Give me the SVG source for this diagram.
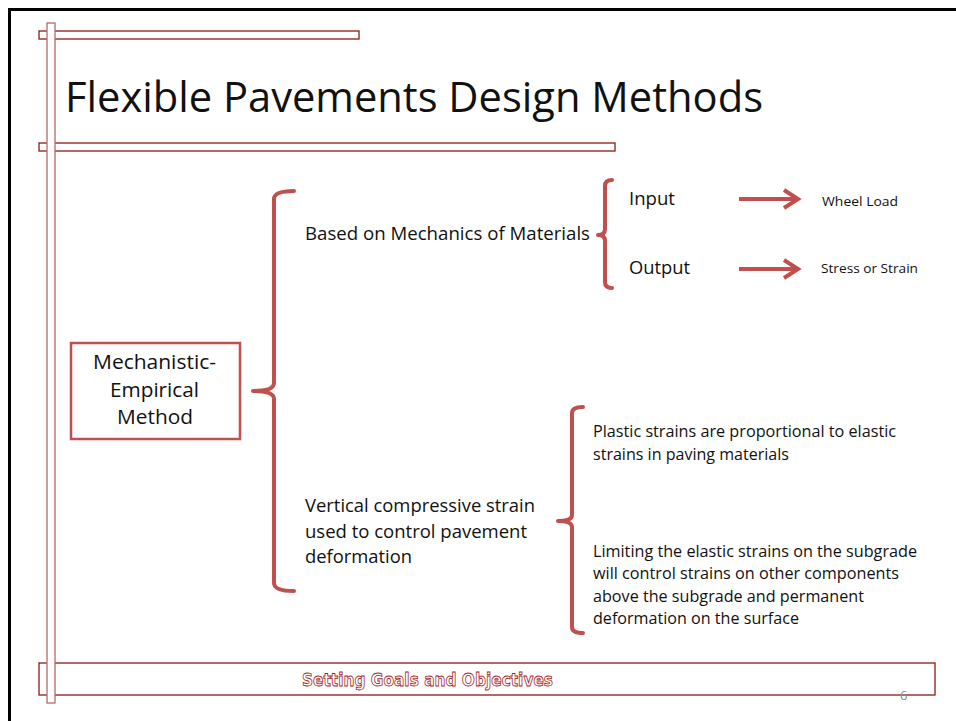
<svg xmlns="http://www.w3.org/2000/svg" width="956" height="721" viewBox="0 0 956 721">
  <style>
    .frame { fill: none; stroke: #000; stroke-width: 3; }
    .rail { fill: #fff; stroke: #8b1a1a; stroke-width: 1.3; }
    .post { fill: #fff; stroke: #b36a6a; stroke-width: 1.3; }
    .brace { fill: none; stroke: #c0504d; stroke-width: 4; stroke-linecap: round; stroke-linejoin: round; }
    .arrow { fill: none; stroke: #c0504d; stroke-width: 4; stroke-linejoin: miter; }
    .t { font-family: "Open Sans", "Liberation Sans", sans-serif; fill: #111; }
    .title { font-size: 42px; }
    .m { font-size: 18px; }
    .s { font-size: 13.5px; }
    .p { font-size: 15.5px; }
    .box { fill: #fff; stroke: #c0504d; stroke-width: 2.5; }
    .foot { font-family: Tahoma, "DejaVu Sans", sans-serif; font-size: 17px; font-weight: bold; fill: #fff; stroke: #a01c1c; stroke-width: 0.8; }
    .num { font-family: "Open Sans", "Liberation Sans", sans-serif; font-size: 13px; fill: #8c8c8c; }
  </style>

  <!-- slide frame -->
  <path class="frame" d="M9.5 721 V9.5 H956"/>

  <!-- decorative rails -->
  <rect class="rail" x="39" y="31" width="320" height="8"/>
  <rect class="rail" x="39" y="143" width="576" height="8"/>
  <rect class="rail" x="39" y="663" width="896" height="32"/>
  <rect class="post" x="47" y="23" width="8" height="680"/>

  <!-- title -->
  <text class="t title" x="65" y="112" textLength="698" lengthAdjust="spacingAndGlyphs">Flexible Pavements Design Methods</text>

  <!-- connectors: braces and arrows -->
  <g id="connectors">
    <path class="brace" d="M294 191 Q274 191 274 199 V383 Q274 391 253 391 Q274 391 274 399 V583 Q274 591 294 591"/>
    <path class="brace" d="M612 180 Q605 180 605 186 V229 Q605 235 598 235 Q605 235 605 241 V282 Q605 288 612 288"/>
    <path class="brace" d="M583 407 Q572 407 572 413 V515 Q572 521 558 521 Q572 521 572 527 V627 Q572 633 583 633"/>
    <path class="arrow" d="M739 199 H798 M784 190 L798 199 L784 208"/>
    <path class="arrow" d="M739 269 H798 M784 260 L798 269 L784 278"/>
  </g>

  <g id="method">
    <rect class="box" x="71" y="343" width="169" height="96"/>
    <text class="t" font-size="20" x="93" y="369" textLength="123" lengthAdjust="spacingAndGlyphs">Mechanistic-</text>
    <text class="t" font-size="20" x="110" y="397" textLength="89" lengthAdjust="spacingAndGlyphs">Empirical</text>
    <text class="t" font-size="20" x="117" y="424" textLength="76" lengthAdjust="spacingAndGlyphs">Method</text>
  </g>

  <g id="mechanics">
    <text class="t m" x="305" y="240" textLength="285" lengthAdjust="spacingAndGlyphs">Based on Mechanics of Materials</text>
  </g>

  <g id="input">
    <text class="t m" x="629" y="205" textLength="46" lengthAdjust="spacingAndGlyphs">Input</text>
  </g>
  <g id="output">
    <text class="t m" x="629" y="274" textLength="61" lengthAdjust="spacingAndGlyphs">Output</text>
  </g>
  <g id="wheel-load">
    <text class="t s" x="822" y="206" textLength="76" lengthAdjust="spacingAndGlyphs">Wheel Load</text>
  </g>
  <g id="stress-strain">
    <text class="t s" x="821" y="273" textLength="97" lengthAdjust="spacingAndGlyphs">Stress or Strain</text>
  </g>

  <g id="vertical-strain">
    <text class="t m" x="305" y="512" textLength="230" lengthAdjust="spacingAndGlyphs">Vertical compressive strain</text>
    <text class="t m" x="305" y="538" textLength="222" lengthAdjust="spacingAndGlyphs">used to control pavement</text>
    <text class="t m" x="305" y="563" textLength="107" lengthAdjust="spacingAndGlyphs">deformation</text>
  </g>

  <g id="plastic">
    <text class="t p" x="593" y="437" textLength="303" lengthAdjust="spacingAndGlyphs">Plastic strains are proportional to elastic</text>
    <text class="t p" x="593" y="460" textLength="196" lengthAdjust="spacingAndGlyphs">strains in paving materials</text>
  </g>

  <g id="limiting">
    <text class="t p" x="593" y="557" textLength="324" lengthAdjust="spacingAndGlyphs">Limiting the elastic strains on the subgrade</text>
    <text class="t p" x="593" y="579" textLength="306" lengthAdjust="spacingAndGlyphs">will control strains on other components</text>
    <text class="t p" x="593" y="602" textLength="271" lengthAdjust="spacingAndGlyphs">above the subgrade and permanent</text>
    <text class="t p" x="593" y="624" textLength="206" lengthAdjust="spacingAndGlyphs">deformation on the surface</text>
  </g>

  <!-- footer -->
  <text class="foot" x="302" y="686" textLength="251" lengthAdjust="spacingAndGlyphs">Setting Goals and Objectives</text>
  <text class="num" x="900" y="700">6</text>
</svg>
